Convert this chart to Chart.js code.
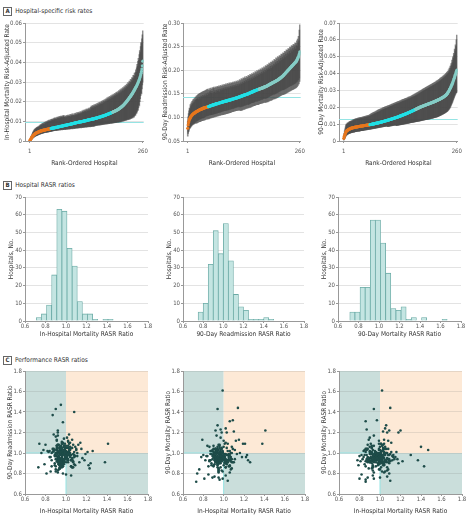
<!DOCTYPE html>
<html>
<head>
<meta charset="utf-8">
<script src="https://cdn.jsdelivr.net/npm/chart.js@4.4.1/dist/chart.umd.min.js"></script>
<style>
  body { margin: 0; background: #fff; width: 467px; height: 519px; position: relative; overflow: hidden;
         font-family: 'Liberation Sans Narrow', 'DejaVu Sans Condensed', sans-serif; }
  canvas { position: absolute; }
  .lbl { position: absolute; left: 3px; font-size: 6.5px; color: #333; white-space: nowrap; line-height: 8px; }
  .lbl b { display: inline-block; border: 0.8px solid #666; padding: 0 1.5px; margin-right: 3px; font-size: 6px; line-height: 6.5px; }
</style>
</head>
<body>
<div class="lbl" style="top:7px"><b>A</b>Hospital-specific risk rates</div>
<div class="lbl" style="top:181px"><b>B</b>Hospital RASR ratios</div>
<div class="lbl" style="top:356px"><b>C</b>Performance RASR ratios</div>

<canvas id="a1" width="153" height="149" style="left:0;top:18px"></canvas>
<canvas id="a2" width="152" height="149" style="left:158px;top:18px"></canvas>
<canvas id="a3" width="153" height="149" style="left:314px;top:18px"></canvas>
<canvas id="b1" width="153" height="146" style="left:0;top:192px"></canvas>
<canvas id="b2" width="151" height="146" style="left:158px;top:192px"></canvas>
<canvas id="b3" width="153" height="146" style="left:313px;top:192px"></canvas>
<canvas id="c1" width="153" height="149" style="left:0;top:366px"></canvas>
<canvas id="c2" width="152" height="149" style="left:158px;top:366px"></canvas>
<canvas id="c3" width="153" height="149" style="left:314px;top:366px"></canvas>

<script>
// ---- panel A: rank ordered risk-adjusted rates (rank 1..260) ----
// in-hospital mortality, units of 0.0001
const inHospRate = [
  2,5,9,13,17,20,23,26,29,31,33,35,37,38,40,41,42,43,44,45,
  46,47,48,49,50,51,51,52,53,53,54,55,55,56,56,57,57,58,58,59,
  59,60,60,61,61,62,62,63,63,64,64,65,65,66,66,67,67,68,68,69,
  69,70,70,71,71,72,72,73,73,74,74,75,75,76,76,77,77,78,78,79,
  79,80,80,81,81,82,82,83,83,84,84,85,85,86,86,87,87,88,88,89,
  90,90,91,91,92,92,93,93,94,94,95,95,96,96,97,97,97,98,98,99,
  99,100,100,101,101,102,102,103,103,104,104,105,106,106,107,107,108,108,109,109,
  110,110,111,111,112,112,113,113,114,115,115,116,116,117,118,118,119,120,120,121,
  122,122,123,124,124,125,126,127,127,128,129,130,131,131,132,133,134,135,136,137,
  137,138,139,140,141,142,143,144,145,146,147,148,149,150,151,152,153,154,155,156,
  158,159,160,162,163,165,166,168,170,172,173,175,177,179,181,183,186,188,191,193,
  196,198,201,204,207,210,213,216,219,222,225,228,232,235,238,242,245,249,253,257,
  261,265,269,273,277,281,286,291,296,301,307,313,320,327,335,344,354,366,382,406
];
const inHospHi = [
  5,10,16,22,28,33,38,44,48,52,55,58,62,60,66,64,70,67,72,69,
  74,70,79,75,82,78,85,80,88,83,90,86,93,84,95,89,97,91,99,94,
  101,95,104,97,106,99,103,108,100,110,104,112,106,109,114,107,116,110,118,111,
  113,119,110,121,115,118,123,114,125,119,116,127,121,124,118,129,122,126,131,120,
  121,127,118,124,130,120,126,132,123,129,125,134,127,122,136,130,126,138,131,128,
  138,131,127,140,133,142,129,136,144,132,139,146,135,141,148,137,143,150,140,145,
  154,144,150,157,146,152,159,149,155,162,148,157,164,152,160,167,154,162,169,157,
  171,178,165,174,181,168,176,184,170,179,187,173,182,190,176,185,193,179,188,196,
  183,192,199,186,195,203,189,198,207,193,202,211,196,206,215,200,210,219,204,214,
  223,208,218,227,212,222,231,216,226,235,220,230,239,224,234,243,228,238,247,232,
  242,251,236,246,256,241,251,261,245,256,266,250,261,271,255,266,277,260,272,283,
  266,278,290,273,285,297,280,292,305,288,300,313,296,310,323,305,320,334,316,331,
  345,330,348,362,350,372,390,380,405,420,410,440,460,450,480,500,495,520,540,560
];
const inHospLo = [
  0,1,3,6,9,11,13,15,17,19,20,22,23,24,26,27,27,29,30,31,
  32,33,34,35,36,36,37,38,39,39,40,41,41,42,42,43,43,44,44,45,
  45,46,45,47,46,48,47,49,48,50,49,51,50,52,51,53,52,54,53,55,
  54,55,53,56,55,57,54,58,56,57,55,59,57,58,56,60,58,59,57,61,
  59,60,58,62,60,61,59,63,61,62,60,64,62,63,61,65,63,64,62,66,
  64,65,63,67,65,66,64,68,66,67,65,69,67,68,66,70,68,69,67,71,
  69,70,68,72,70,71,69,73,71,72,70,74,72,73,71,75,73,74,72,76,
  74,75,73,77,75,76,74,78,76,77,79,81,78,80,82,79,81,83,80,82,
  84,81,83,85,82,84,86,83,85,87,84,86,88,85,87,89,86,88,90,87,
  89,91,88,90,92,89,91,93,90,92,94,91,93,95,92,94,96,93,95,97,
  94,96,98,95,97,99,96,98,101,97,100,103,99,102,105,101,104,107,103,106,
  109,105,108,111,107,110,113,109,112,116,111,115,119,114,118,123,117,122,128,121,
  127,134,130,138,145,141,150,160,155,170,185,178,200,215,230,245,240,265,285,300
];
// 90-day readmission, units of 0.001
const readmitRate = [
  77,84,89,93,96,98,100,101,103,104,105,106,107,108,108,109,110,110,111,112,
  112,113,113,114,114,115,115,116,116,117,117,117,118,118,119,119,119,120,120,120,
  121,121,121,122,122,122,122,123,123,123,124,124,124,125,125,125,126,126,126,127,
  127,127,127,128,128,128,129,129,129,129,130,130,130,131,131,131,131,132,132,132,
  133,133,133,133,134,134,134,134,135,135,135,135,136,136,136,136,137,137,137,137,
  138,138,138,139,139,139,139,140,140,140,141,141,141,141,142,142,142,143,143,143,
  144,144,144,145,145,145,146,146,146,147,147,147,148,148,148,149,149,149,150,150,
  150,151,151,152,152,152,153,153,154,154,154,155,155,156,156,156,157,157,158,158,
  158,159,159,159,160,160,160,161,161,161,162,162,162,163,163,163,164,164,165,165,
  165,166,166,167,167,168,168,169,169,170,170,171,171,172,172,173,173,174,174,175,
  175,176,176,177,177,178,178,179,179,180,181,181,182,183,183,184,185,186,186,187,
  188,189,190,191,192,193,194,195,196,197,198,199,200,201,202,203,204,205,206,207,
  208,209,210,211,212,213,214,215,216,217,218,219,221,223,225,227,229,232,235,239
];
const readmitHi = [
  92,101,108,114,120,118,127,123,131,126,134,129,137,131,139,133,141,136,143,138,
  145,139,147,141,149,138,150,143,151,140,152,145,153,142,154,147,155,144,156,148,
  157,145,158,150,159,147,160,152,158,149,161,154,157,162,151,160,155,163,150,161,
  164,153,162,157,165,152,163,158,166,155,164,159,167,154,165,160,168,157,166,161,
  169,158,167,162,170,159,168,163,171,160,169,164,172,161,170,165,173,162,171,166,
  174,163,172,167,175,164,173,168,176,165,174,169,177,166,175,170,178,167,176,171,
  180,169,178,173,182,170,180,175,184,172,182,177,186,174,183,179,187,176,185,181,
  189,177,187,182,191,179,189,184,193,181,191,186,195,183,193,188,197,185,195,190,
  199,187,197,192,201,189,199,194,203,191,201,196,205,193,203,198,207,195,205,200,
  210,197,208,203,212,200,211,205,215,202,213,208,217,204,216,210,220,207,218,213,
  223,210,221,216,226,213,224,219,229,215,227,222,231,218,230,225,234,221,233,228,
  237,224,236,231,240,227,239,234,243,230,242,237,246,233,245,240,249,236,248,243,
  252,239,251,246,255,242,254,249,258,245,257,252,262,250,266,258,272,262,285,296
];
const readmitLo = [
  60,66,70,73,76,77,79,80,82,82,84,84,86,85,87,86,89,87,90,88,
  92,88,93,89,94,90,95,91,96,91,97,92,98,93,99,93,99,94,100,94,
  101,95,102,96,103,96,103,97,104,97,105,98,105,99,106,99,106,100,107,100,
  107,101,108,101,108,102,109,102,109,103,110,103,110,104,111,104,111,105,112,105,
  113,106,113,106,114,107,114,107,115,108,115,108,116,109,116,109,117,110,117,110,
  118,111,118,112,119,112,119,113,120,113,121,114,121,114,122,115,122,115,123,116,
  122,114,122,115,123,115,124,116,124,117,125,117,126,118,126,119,127,119,128,120,
  127,120,128,121,129,121,130,122,131,123,131,124,132,125,133,125,134,126,135,127,
  134,127,135,127,136,128,136,129,137,129,138,130,138,130,139,131,140,132,141,132,
  140,132,141,133,142,133,143,134,144,135,145,136,146,136,147,137,148,138,149,139,
  149,139,150,140,151,141,152,142,153,143,154,144,155,145,156,146,157,147,158,148,
  158,148,159,149,160,150,161,151,162,152,163,153,164,154,165,155,166,156,167,157,
  168,158,169,159,170,160,171,161,172,162,173,163,175,165,177,168,180,171,183,176
];
// 90-day mortality, units of 0.0001
const mort90Rate = [
  16,26,34,41,48,55,58,61,63,65,67,68,70,71,72,73,75,76,77,77,
  78,79,79,80,81,81,82,82,83,83,84,84,85,85,86,86,87,87,88,88,
  89,89,89,90,90,91,91,92,92,92,93,93,94,94,95,95,95,96,96,97,
  97,98,98,99,99,100,100,101,101,102,103,103,104,104,105,106,106,107,107,108,
  109,109,110,111,111,112,113,113,114,115,115,116,117,118,118,119,120,121,121,122,
  123,124,124,125,126,127,128,128,129,130,131,132,133,133,134,135,136,137,138,139,
  139,140,141,142,143,144,145,146,147,148,149,150,151,152,153,154,155,156,157,158,
  159,160,161,162,163,164,165,167,168,169,170,171,172,174,175,176,177,178,180,181,
  182,183,185,186,187,188,190,191,192,193,195,196,197,198,200,201,202,203,204,205,
  206,207,208,209,210,211,212,213,214,215,216,217,218,219,220,221,222,223,224,225,
  226,227,228,229,230,231,232,233,234,235,236,238,239,240,241,242,244,245,246,247,
  249,250,251,253,254,256,257,259,260,262,264,266,268,270,272,275,278,281,285,289,
  293,298,303,308,313,318,324,330,336,343,350,357,364,372,380,388,396,405,413,420
];
const mort90Hi = [
  30,46,60,72,84,94,100,97,106,103,110,107,114,110,117,113,118,115,121,117,
  124,120,127,122,129,124,131,126,133,127,134,129,136,130,137,131,139,133,140,134,
  141,135,142,136,144,137,145,139,147,140,148,141,150,143,151,144,152,145,154,147,
  158,149,161,152,164,155,167,157,170,159,172,162,175,164,178,167,180,170,183,172,
  186,175,188,178,191,180,193,183,196,185,198,188,200,190,202,192,204,194,206,196,
  208,198,210,200,212,203,214,205,216,207,219,209,221,212,223,214,225,216,228,218,
  230,220,232,222,234,224,236,226,238,228,240,231,243,233,245,235,247,237,249,239,
  251,241,253,243,255,245,257,248,260,250,262,252,264,255,267,257,269,259,272,262,
  275,264,278,267,281,270,284,273,287,276,290,279,293,282,296,285,299,288,302,291,
  306,294,309,297,312,300,315,303,318,306,321,309,324,312,327,315,330,318,333,321,
  336,324,339,327,342,330,345,333,348,336,351,339,355,343,358,346,362,350,366,354,
  370,358,374,362,378,366,382,370,386,374,391,379,396,384,401,389,407,395,414,402,
  422,410,432,420,445,432,460,448,480,465,500,490,520,510,545,535,570,560,600,629
];
const mort90Lo = [
  5,10,15,20,25,30,33,36,38,40,41,43,44,45,46,47,48,49,50,50,
  51,52,52,53,53,54,55,55,56,56,57,57,58,58,59,59,59,60,60,61,
  61,62,61,63,62,64,63,65,64,65,66,65,67,66,68,67,68,69,68,70,
  69,71,70,72,71,73,72,74,73,75,74,76,75,77,76,78,77,79,78,80,
  79,81,80,82,81,83,82,84,83,85,84,86,85,87,86,88,87,89,88,90,
  85,87,86,88,87,89,88,90,89,91,90,92,91,93,92,94,93,95,94,96,
  91,93,92,94,93,95,94,96,95,97,96,98,97,99,98,100,99,101,100,102,
  101,103,102,104,103,105,104,106,105,107,106,108,107,109,108,110,109,111,110,112,
  111,113,112,114,113,115,114,116,115,117,116,118,117,119,118,120,119,121,120,122,
  122,124,123,125,124,126,125,127,126,128,127,129,128,130,129,131,130,132,131,133,
  133,135,134,136,135,137,137,139,138,140,140,142,141,143,143,145,145,147,147,149,
  150,152,152,154,155,157,157,159,160,162,163,165,166,168,170,172,174,176,179,181,
  184,188,192,196,201,206,212,218,224,231,238,245,252,259,266,272,278,283,287,290
];
// last rank of the orange group and of the bright cyan group
const inHospGroups = [49, 190];
const readmitGroups = [48, 165];
const mort90Groups = [60, 165];
// overall rates (horizontal reference lines)
const inHospOverall = 0.0095;
const readmitOverall = 0.143;
const mort90Overall = 0.0130;
const rankTicks = [1, 260];

// ---- panel B: histograms of RASR ratios (bin width 0.05) ----
const inHospBins = [0.71,0.76,0.81,0.86,0.91,0.96,1.01,1.06,1.11,1.16,1.21,1.26,1.31,1.36,1.41];
const inHospCounts = [2,4,9,26,63,62,41,31,11,4,4,1,0,1,1];
const readmitBins = [0.75,0.80,0.85,0.90,0.95,1.00,1.05,1.10,1.15,1.20,1.25,1.30,1.35,1.40,1.45];
const readmitCounts = [5,10,32,51,38,55,34,15,8,6,1,1,1,2,1];
const mort90Bins = [0.715,0.765,0.815,0.865,0.915,0.965,1.015,1.065,1.115,1.165,1.215,1.265,1.315,1.365,1.415,1.465,1.515,1.565,1.615];
const mort90Counts = [5,5,19,19,57,57,44,27,7,6,8,1,2,0,2,0,0,0,1];

// ---- panel C: per hospital RASR ratios, in hundredths ----
const inHospRatio = [
  141,138,95,90,108,99,94,114,87,74,73,126,124,122,123,121,97,106,92,103,
  109,94,97,102,98,110,119,115,112,116,118,81,96,99,104,91,89,95,102,85,
  93,101,97,88,105,92,96,103,91,99,108,94,86,98,102,90,95,107,93,100,
  92,104,96,89,94,106,99,91,101,93,87,97,109,95,92,103,90,96,100,94,
  99,93,84,102,92,97,105,91,95,98,104,90,100,96,88,93,107,97,92,101,
  95,78,102,94,91,106,97,93,103,89,96,92,101,98,94,111,90,95,108,97,
  91,104,100,93,86,98,94,106,92,97,95,90,107,99,93,82,96,102,94,101,
  98,94,105,101,92,89,95,108,93,99,96,91,103,94,97,90,100,95,113,92,
  96,93,104,87,94,102,97,91,105,95,92,98,80,101,94,100,93,106,97,90,
  94,99,92,107,103,88,95,93,98,101,91,97,94,109,96,92,104,85,95,102,
  93,97,90,100,96,105,107,92,98,95,83,102,91,96,104,93,105,97,94,88,
  100,95,92,98,111,94,103,90,106,96,93,99,86,101,95,92,108,97,94,79,
  96,91,99,104,93,97,89,95,102,94,98,92,106,96,84,100,93,110,97,76
];
const readmitRatio = [
  109,91,147,143,140,102,94,110,137,109,86,102,90,88,85,101,130,86,120,118,
  97,106,87,105,107,103,99,104,108,95,93,80,86,94,110,107,88,100,93,82,
  101,94,87,103,98,108,92,100,112,96,89,104,93,106,99,82,102,91,97,105,
  95,100,109,90,103,86,97,113,101,92,104,98,88,107,94,102,116,91,99,85,
  104,89,96,101,93,110,87,103,98,92,106,100,79,95,102,90,108,94,101,97,
  92,103,99,86,105,94,101,91,109,97,88,102,96,114,93,100,84,106,98,90,
  103,97,91,108,100,89,104,95,117,93,101,87,99,105,92,102,96,111,88,94,
  100,106,93,97,81,103,90,101,95,109,92,104,98,86,102,94,107,99,91,122,
  97,89,104,101,95,112,93,100,87,103,96,91,108,99,85,102,94,105,90,98,
  102,95,108,92,99,104,88,101,93,115,97,100,90,106,94,83,103,96,101,91,
  89,103,97,100,111,93,86,105,98,92,101,94,107,90,104,96,78,102,99,118,
  94,101,91,106,97,88,103,100,93,110,95,102,87,99,104,92,96,109,100,89,
  105,92,100,96,84,103,98,91,107,101,94,99,113,89,102,97,93,104,80,100
];
const mort90Ratio = [
  122,109,103,87,106,161,143,144,93,80,72,91,93,96,98,109,98,131,122,120,
  132,127,123,124,120,121,109,113,112,100,96,75,74,75,73,77,76,76,78,79,
  96,91,103,88,99,94,107,92,97,101,85,95,93,104,90,98,82,100,94,106,
  93,98,90,102,95,87,100,96,109,92,99,94,104,83,97,91,101,95,112,89,
  101,94,97,86,103,92,98,95,90,105,93,99,88,96,102,91,84,97,100,94,
  90,96,92,104,98,81,95,101,93,97,108,91,99,94,86,103,96,92,100,115,
  97,93,99,91,106,95,88,102,94,98,90,104,96,82,100,93,97,110,92,95,
  94,100,87,97,92,103,99,91,96,94,105,89,98,101,93,107,95,84,99,92,
  99,95,91,102,97,93,86,100,94,108,96,92,98,90,103,95,117,93,101,88,
  92,97,104,94,89,99,95,101,83,96,93,100,106,91,98,94,102,87,95,99,
  95,90,98,93,101,96,92,104,99,85,97,94,100,91,109,96,93,98,103,90,
  98,93,96,100,94,91,105,97,88,99,95,102,92,96,81,101,94,98,90,113,
  93,99,95,91,102,97,94,100,86,96,92,104,98,93,107,95,99,91,97,84
];

// ---- styling ----
const ORANGE = '#e8771d';
const CYAN = '#22e0e6';
const PALE = '#85cdc6';
const BAND = 'rgba(72,72,72,0.62)';
const REF = '#95e4e4';
const BAR_FILL = '#c4e5e2';
const BAR_LINE = '#6aaaa5';
const DOT = '#1e4c49';
const QUAD_TEAL = '#cadedb';
const QUAD_ORANGE = '#fde9d6';

Chart.defaults.font.family = "'Liberation Sans Narrow', 'DejaVu Sans Condensed', sans-serif";
Chart.defaults.font.size = 6;
Chart.defaults.color = '#555';
Chart.defaults.animation = false;
Chart.defaults.responsive = false;
Chart.defaults.plugins.legend.display = false;
Chart.defaults.plugins.tooltip.enabled = false;

const refLine = {
  id: 'refLine',
  beforeDatasetsDraw(chart, args, opts) {
    const {ctx, chartArea: a, scales: {y}} = chart;
    const py = Math.round(y.getPixelForValue(opts.value)) + 0.5;
    ctx.save();
    ctx.strokeStyle = REF;
    ctx.lineWidth = 1;
    ctx.beginPath(); ctx.moveTo(a.left, py); ctx.lineTo(a.right, py); ctx.stroke();
    ctx.restore();
  }
};

const quadrants = {
  id: 'quadrants',
  beforeDraw(chart) {
    const {ctx, chartArea: a, scales: {x, y}} = chart;
    const cx = x.getPixelForValue(1), cy = y.getPixelForValue(1);
    ctx.save();
    ctx.fillStyle = QUAD_TEAL;
    ctx.fillRect(a.left, a.top, cx - a.left, cy - a.top);
    ctx.fillRect(cx, cy, a.right - cx, a.bottom - cy);
    ctx.fillStyle = QUAD_ORANGE;
    ctx.fillRect(cx, a.top, a.right - cx, cy - a.top);
    ctx.strokeStyle = REF;
    ctx.lineWidth = 1;
    ctx.beginPath(); ctx.moveTo(a.left, cy); ctx.lineTo(cx, cy); ctx.lineTo(cx, a.bottom); ctx.stroke();
    ctx.restore();
  }
};

function yAxis(min, max, step, text, fmt, titlePad) {
  return {
    type: 'linear', min, max,
    afterFit: s => { s.width = 25; },
    border: {color: '#999'},
    grid: {color: '#e3e3e3', tickColor: '#999', tickLength: 2},
    ticks: {stepSize: step, padding: 1, callback: fmt},
    title: {display: true, text, color: '#333', font: {size: 6.5}, padding: titlePad}
  };
}

function xAxis(min, max, text, h, tickPad, extra) {
  return Object.assign({
    type: 'linear', min, max, offset: false,
    afterFit: s => { s.height = h; },
    border: {color: '#999'},
    grid: {drawOnChartArea: false, color: '#999', tickLength: 2, offset: false},
    ticks: {stepSize: 0.2, padding: tickPad, maxRotation: 0, autoSkip: false, callback: v => v.toFixed(1)},
    title: {display: true, text, color: '#333', font: {size: 6.5}, padding: 0}
  }, extra || {});
}

const pad = {top: 5, right: 5, left: 0, bottom: 0};

function rankChart(id, rate, lo, hi, unit, groups, overall, yRange, step, yTitle, fmt) {
  const ranks = rate.map((v, i) => i + 1);
  const colors = ranks.map(r => r <= groups[0] ? ORANGE : (r <= groups[1] ? CYAN : PALE));
  new Chart(document.getElementById(id), {
    data: {
      datasets: [
        {type: 'bar', order: 2, backgroundColor: BAND, barThickness: 1,
         data: ranks.map((r, i) => ({x: r, y: [lo[i] * unit, hi[i] * unit]}))},
        {type: 'scatter', order: 1, pointRadius: 1.6, pointBorderWidth: 0, pointBackgroundColor: colors,
         data: ranks.map((r, i) => ({x: r, y: rate[i] * unit}))}
      ]
    },
    options: {
      layout: {padding: pad},
      scales: {
        x: xAxis(-10, 262, 'Rank-Ordered Hospital', 26, 5, {
          afterBuildTicks: s => { s.ticks = rankTicks.map(v => ({value: v})); },
          ticks: {padding: 5, maxRotation: 0, autoSkip: false}
        }),
        y: yAxis(yRange[0], yRange[1], step, yTitle, fmt, {top: 3, bottom: 0})
      },
      plugins: {refLine: {value: overall}}
    },
    plugins: [refLine]
  });
}

function histChart(id, bins, counts, xTitle) {
  new Chart(document.getElementById(id), {
    type: 'bar',
    data: {
      datasets: [{
        data: bins.map((b, i) => ({x: b + 0.025, y: counts[i]})),
        backgroundColor: BAR_FILL, borderColor: BAR_LINE, borderWidth: 0.8,
        barPercentage: 1, categoryPercentage: 1
      }]
    },
    options: {
      layout: {padding: pad},
      scales: {
        x: xAxis(0.6, 1.8, xTitle, 17, 0),
        y: yAxis(0, 70, 10, 'Hospitals, No.', v => v, {top: 7, bottom: 0})
      }
    }
  });
}

function ratioChart(id, xs, ys, xTitle, yTitle) {
  new Chart(document.getElementById(id), {
    type: 'scatter',
    data: {
      datasets: [{
        data: xs.map((v, i) => ({x: v / 100, y: ys[i] / 100})),
        pointRadius: 1.3, pointBorderWidth: 0, pointBackgroundColor: DOT
      }]
    },
    options: {
      layout: {padding: pad},
      scales: {
        x: xAxis(0.6, 1.8, xTitle, 21, 0),
        y: Object.assign(yAxis(0.6, 1.8, 0.2, yTitle, v => v.toFixed(1), {top: 6, bottom: 0}),
                         {grid: {color: 'rgba(120,120,120,0.18)', tickColor: '#999', tickLength: 2}})
      }
    },
    plugins: [quadrants]
  });
}

const fmt2 = v => v === 0 ? '0' : v.toFixed(2);

rankChart('a1', inHospRate, inHospLo, inHospHi, 1e-4, inHospGroups, inHospOverall, [0, 0.06], 0.01,
  'In-Hospital Mortality Risk-Adjusted Rate', fmt2);
rankChart('a2', readmitRate, readmitLo, readmitHi, 1e-3, readmitGroups, readmitOverall, [0.05, 0.30], 0.05,
  '90-Day Readmission Risk-Adjusted Rate', v => v.toFixed(2));
rankChart('a3', mort90Rate, mort90Lo, mort90Hi, 1e-4, mort90Groups, mort90Overall, [0, 0.07], 0.01,
  '90-Day Mortality Risk-Adjusted Rate', fmt2);

histChart('b1', inHospBins, inHospCounts, 'In-Hospital Mortality RASR Ratio');
histChart('b2', readmitBins, readmitCounts, '90-Day Readmission RASR Ratio');
histChart('b3', mort90Bins, mort90Counts, '90-Day Mortality RASR Ratio');

ratioChart('c1', inHospRatio, readmitRatio, 'In-Hospital Mortality RASR Ratio', '90-Day Readmission RASR Ratio');
ratioChart('c2', inHospRatio, mort90Ratio, 'In-Hospital Mortality RASR Ratio', '90-Day Mortality RASR Ratio');
ratioChart('c3', readmitRatio, mort90Ratio, 'In-Hospital Mortality RASR Ratio', '90-Day Mortality RASR Ratio');
</script>
</body>
</html>
